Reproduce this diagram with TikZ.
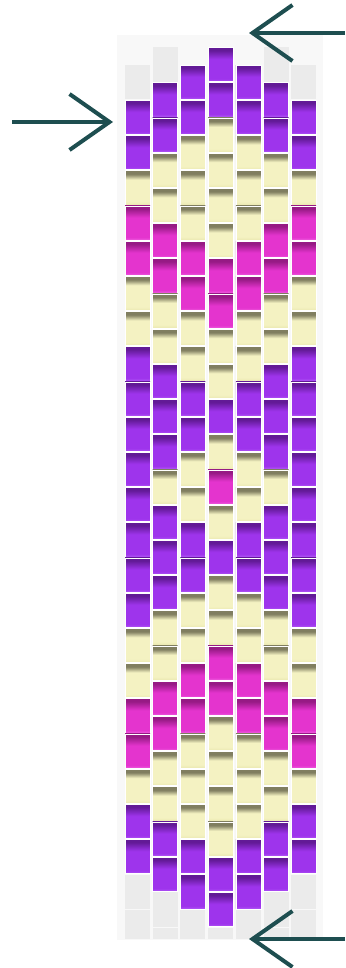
\documentclass[tikz,border=0pt]{standalone}
\usetikzlibrary{arrows.meta}
\definecolor{bdpurpledark}{RGB}{98,26,150}
\definecolor{bdpurple}{RGB}{158,52,236}
\definecolor{bdpurplelow}{RGB}{178,90,246}
\definecolor{bdmagentadark}{RGB}{150,26,132}
\definecolor{bdmagenta}{RGB}{228,52,206}
\definecolor{bdmagentalow}{RGB}{238,92,222}
\definecolor{bdyellowdark}{RGB}{128,126,96}
\definecolor{bdyellow}{RGB}{244,242,194}
\definecolor{bdyellowlow}{RGB}{234,232,176}
\definecolor{bdgray}{RGB}{235,235,235}
\definecolor{bdback}{RGB}{248,248,248}
\definecolor{bdarrow}{RGB}{30,78,80}
\pgfdeclareverticalshading{bdshadeP}{100bp}{color(0bp)=(bdpurplelow); color(25bp)=(bdpurplelow);
  color(29bp)=(bdpurple); color(58bp)=(bdpurple); color(71bp)=(bdpurpledark); color(75bp)=(bdpurpledark);
  color(100bp)=(bdpurpledark)}
\pgfdeclareverticalshading{bdshadeM}{100bp}{color(0bp)=(bdmagentalow); color(25bp)=(bdmagentalow);
  color(29bp)=(bdmagenta); color(58bp)=(bdmagenta); color(71bp)=(bdmagentadark); color(75bp)=(bdmagentadark);
  color(100bp)=(bdmagentadark)}
\pgfdeclareverticalshading{bdshadeY}{100bp}{color(0bp)=(bdyellowlow); color(25bp)=(bdyellowlow);
  color(30bp)=(bdyellow); color(62bp)=(bdyellow); color(70bp)=(bdyellowdark); color(75bp)=(bdyellowdark);
  color(100bp)=(bdyellowdark)}
\tikzset{
  bdbead/.style={
    shading=bdshade#1, draw=white, line width=0.6pt,
    minimum width=25pt, minimum height=34.2pt, inner sep=0pt
  },
  bdempty/.style={fill=bdgray, minimum width=25pt, minimum height=34.2pt, inner sep=0pt},
  bdarr/.style={-{Straight Barb[length=40pt,width=56pt]}, line width=4pt, draw=bdarrow},
}

\begin{document}
\begin{tikzpicture}[x=1pt, y=-1pt]
    \useasboundingbox (0,0) rectangle (345,968);
    % Fondo del patron
    \fill[bdback] (117,35) rectangle (323,940);

    % Cuentas vacias (arriba y abajo)
    \begin{scope}
      \clip (117,35) rectangle (323,938);
      \foreach \col/\r in {1/1, 2/0, 6/0, 7/1, 1/47, 1/49, 2/48, 2/50, 3/49, 4/50, 5/49, 6/48, 6/50, 7/47, 7/49}
        \node[bdempty] (e\col-\r) at ({137.5+27.7*(\col-1)}, {47+17.6*(\r+1)}) {};
    \end{scope}

    % Columnas de cuentas (peyote)
    \foreach \col/\rs/\seq in {
        1/3/{P,P,Y,M,M,Y,Y,P,P,P,P,P,P,P,P,Y,Y,M,M,Y,P,P},
        2/2/{P,P,Y,Y,M,M,Y,Y,P,P,P,Y,P,P,P,Y,Y,M,M,Y,Y,P,P},
        3/1/{P,P,Y,Y,Y,M,M,Y,Y,P,P,Y,Y,P,P,Y,Y,M,M,Y,Y,Y,P,P},
        4/0/{P,P,Y,Y,Y,Y,M,M,Y,Y,P,Y,M,Y,P,Y,Y,M,M,Y,Y,Y,Y,P,P},
        5/1/{P,P,Y,Y,Y,M,M,Y,Y,P,P,Y,Y,P,P,Y,Y,M,M,Y,Y,Y,P,P},
        6/2/{P,P,Y,Y,M,M,Y,Y,P,P,P,Y,P,P,P,Y,Y,M,M,Y,Y,P,P},
        7/3/{P,P,Y,M,M,Y,Y,P,P,P,P,P,P,P,P,Y,Y,M,M,Y,P,P}}
      \foreach \k [count=\i from 0] in \seq
        \node[bdbead=\k] (b\col-\i) at ({137.5+27.7*(\col-1)}, {47+17.6*(\rs+2*\i+1)}) {};

    % Flechas
    \coordinate (topin) at (345,33);
    \coordinate (toptip) at (249,33);
    \coordinate (leftin) at (12,122);
    \coordinate (lefttip) at (113,122);
    \coordinate (botin) at (345,939);
    \coordinate (bottip) at (249,939);
    \draw[bdarr] (topin) -- (toptip);
    \draw[bdarr] (leftin) -- (lefttip);
    \draw[bdarr] (botin) -- (bottip);
  \end{tikzpicture}
\end{document}
